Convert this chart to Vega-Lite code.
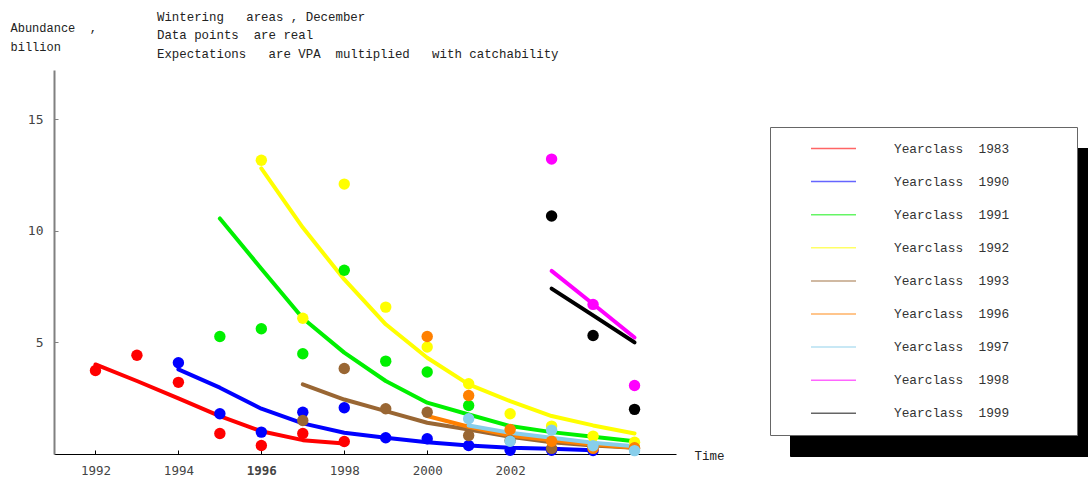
{
  "$schema": "https://vega.github.io/schema/vega-lite/v6.json",
  "width": 622,
  "height": 384,
  "autosize": {"type": "none"},
  "padding": {"left": 54, "top": 70, "right": 412, "bottom": 25},
  "background": "white",
  "config": {"view": {"stroke": null}, "axis": {"grid": false}},
  "title": {
    "text": ["Wintering\u00a0\u00a0 areas , December", "Data points\u00a0 are real", "Expectations\u00a0\u00a0 are VPA\u00a0 multiplied\u00a0\u00a0 with catchability"],
    "anchor": "start",
    "frame": "group",
    "orient": "top",
    "baseline": "bottom",
    "offset": 0,
    "dx": 103,
    "dy": 52,
    "lineHeight": 18.5,
    "font": "Liberation Mono",
    "fontSize": 12.4,
    "fontWeight": "normal",
    "color": "#222222"
  },
  "data": {
    "values": [
      {"yc": "1983", "t": 1992, "k": "vpa", "v": 4.01},
      {"yc": "1983", "t": 1993, "k": "vpa", "v": 3.27},
      {"yc": "1983", "t": 1994, "k": "vpa", "v": 2.49},
      {"yc": "1983", "t": 1995, "k": "vpa", "v": 1.70},
      {"yc": "1983", "t": 1996, "k": "vpa", "v": 1.02},
      {"yc": "1983", "t": 1997, "k": "vpa", "v": 0.62},
      {"yc": "1983", "t": 1998, "k": "vpa", "v": 0.47},
      {"yc": "1990", "t": 1994, "k": "vpa", "v": 3.79},
      {"yc": "1990", "t": 1995, "k": "vpa", "v": 2.97},
      {"yc": "1990", "t": 1996, "k": "vpa", "v": 2.03},
      {"yc": "1990", "t": 1997, "k": "vpa", "v": 1.37},
      {"yc": "1990", "t": 1998, "k": "vpa", "v": 0.95},
      {"yc": "1990", "t": 1999, "k": "vpa", "v": 0.73},
      {"yc": "1990", "t": 2000, "k": "vpa", "v": 0.53},
      {"yc": "1990", "t": 2001, "k": "vpa", "v": 0.38},
      {"yc": "1990", "t": 2002, "k": "vpa", "v": 0.28},
      {"yc": "1990", "t": 2003, "k": "vpa", "v": 0.23},
      {"yc": "1990", "t": 2004, "k": "vpa", "v": 0.17},
      {"yc": "1991", "t": 1995, "k": "vpa", "v": 10.55},
      {"yc": "1991", "t": 1996, "k": "vpa", "v": 8.3},
      {"yc": "1991", "t": 1997, "k": "vpa", "v": 6.08},
      {"yc": "1991", "t": 1998, "k": "vpa", "v": 4.54},
      {"yc": "1991", "t": 1999, "k": "vpa", "v": 3.27},
      {"yc": "1991", "t": 2000, "k": "vpa", "v": 2.3},
      {"yc": "1991", "t": 2001, "k": "vpa", "v": 1.77},
      {"yc": "1991", "t": 2002, "k": "vpa", "v": 1.25},
      {"yc": "1991", "t": 2003, "k": "vpa", "v": 0.98},
      {"yc": "1991", "t": 2004, "k": "vpa", "v": 0.77},
      {"yc": "1991", "t": 2005, "k": "vpa", "v": 0.57},
      {"yc": "1992", "t": 1996, "k": "vpa", "v": 12.79},
      {"yc": "1992", "t": 1997, "k": "vpa", "v": 10.14},
      {"yc": "1992", "t": 1998, "k": "vpa", "v": 7.82},
      {"yc": "1992", "t": 1999, "k": "vpa", "v": 5.81},
      {"yc": "1992", "t": 2000, "k": "vpa", "v": 4.31},
      {"yc": "1992", "t": 2001, "k": "vpa", "v": 3.12},
      {"yc": "1992", "t": 2002, "k": "vpa", "v": 2.37},
      {"yc": "1992", "t": 2003, "k": "vpa", "v": 1.70},
      {"yc": "1992", "t": 2004, "k": "vpa", "v": 1.28},
      {"yc": "1992", "t": 2005, "k": "vpa", "v": 0.92},
      {"yc": "1993", "t": 1997, "k": "vpa", "v": 3.12},
      {"yc": "1993", "t": 1998, "k": "vpa", "v": 2.44},
      {"yc": "1993", "t": 1999, "k": "vpa", "v": 1.92},
      {"yc": "1993", "t": 2000, "k": "vpa", "v": 1.40},
      {"yc": "1993", "t": 2001, "k": "vpa", "v": 1.10},
      {"yc": "1993", "t": 2002, "k": "vpa", "v": 0.77},
      {"yc": "1993", "t": 2003, "k": "vpa", "v": 0.53},
      {"yc": "1993", "t": 2004, "k": "vpa", "v": 0.38},
      {"yc": "1993", "t": 2005, "k": "vpa", "v": 0.28},
      {"yc": "1996", "t": 2000, "k": "vpa", "v": 1.70},
      {"yc": "1996", "t": 2001, "k": "vpa", "v": 1.22},
      {"yc": "1996", "t": 2002, "k": "vpa", "v": 0.83},
      {"yc": "1996", "t": 2003, "k": "vpa", "v": 0.62},
      {"yc": "1996", "t": 2004, "k": "vpa", "v": 0.43},
      {"yc": "1996", "t": 2005, "k": "vpa", "v": 0.28},
      {"yc": "1997", "t": 2001, "k": "vpa", "v": 1.28},
      {"yc": "1997", "t": 2002, "k": "vpa", "v": 0.95},
      {"yc": "1997", "t": 2003, "k": "vpa", "v": 0.73},
      {"yc": "1997", "t": 2004, "k": "vpa", "v": 0.50},
      {"yc": "1997", "t": 2005, "k": "vpa", "v": 0.35},
      {"yc": "1998", "t": 2003, "k": "vpa", "v": 8.2},
      {"yc": "1998", "t": 2004, "k": "vpa", "v": 6.72},
      {"yc": "1998", "t": 2005, "k": "vpa", "v": 5.22},
      {"yc": "1999", "t": 2003, "k": "vpa", "v": 7.41},
      {"yc": "1999", "t": 2004, "k": "vpa", "v": 6.21},
      {"yc": "1999", "t": 2005, "k": "vpa", "v": 5.0},
      {"yc": "1983", "t": 1992, "k": "obs", "v": 3.74},
      {"yc": "1983", "t": 1993, "k": "obs", "v": 4.42},
      {"yc": "1983", "t": 1994, "k": "obs", "v": 3.21},
      {"yc": "1983", "t": 1995, "k": "obs", "v": 0.92},
      {"yc": "1983", "t": 1996, "k": "obs", "v": 0.38},
      {"yc": "1983", "t": 1997, "k": "obs", "v": 0.92},
      {"yc": "1983", "t": 1998, "k": "obs", "v": 0.56},
      {"yc": "1990", "t": 1994, "k": "obs", "v": 4.09},
      {"yc": "1990", "t": 1995, "k": "obs", "v": 1.80},
      {"yc": "1990", "t": 1996, "k": "obs", "v": 0.98},
      {"yc": "1990", "t": 1997, "k": "obs", "v": 1.87},
      {"yc": "1990", "t": 1998, "k": "obs", "v": 2.07},
      {"yc": "1990", "t": 1999, "k": "obs", "v": 0.73},
      {"yc": "1990", "t": 2000, "k": "obs", "v": 0.68},
      {"yc": "1990", "t": 2001, "k": "obs", "v": 0.38},
      {"yc": "1990", "t": 2002, "k": "obs", "v": 0.17},
      {"yc": "1990", "t": 2003, "k": "obs", "v": 0.17},
      {"yc": "1990", "t": 2004, "k": "obs", "v": 0.16},
      {"yc": "1991", "t": 1995, "k": "obs", "v": 5.26},
      {"yc": "1991", "t": 1996, "k": "obs", "v": 5.61},
      {"yc": "1991", "t": 1997, "k": "obs", "v": 4.49},
      {"yc": "1991", "t": 1998, "k": "obs", "v": 8.23},
      {"yc": "1991", "t": 1999, "k": "obs", "v": 4.16},
      {"yc": "1991", "t": 2000, "k": "obs", "v": 3.67},
      {"yc": "1991", "t": 2001, "k": "obs", "v": 2.17},
      {"yc": "1992", "t": 1996, "k": "obs", "v": 13.16},
      {"yc": "1992", "t": 1997, "k": "obs", "v": 6.08},
      {"yc": "1992", "t": 1998, "k": "obs", "v": 12.09},
      {"yc": "1992", "t": 1999, "k": "obs", "v": 6.58},
      {"yc": "1992", "t": 2000, "k": "obs", "v": 4.79},
      {"yc": "1992", "t": 2001, "k": "obs", "v": 3.15},
      {"yc": "1992", "t": 2002, "k": "obs", "v": 1.80},
      {"yc": "1992", "t": 2003, "k": "obs", "v": 1.25},
      {"yc": "1992", "t": 2004, "k": "obs", "v": 0.80},
      {"yc": "1992", "t": 2005, "k": "obs", "v": 0.53},
      {"yc": "1993", "t": 1997, "k": "obs", "v": 1.50},
      {"yc": "1993", "t": 1998, "k": "obs", "v": 3.83},
      {"yc": "1993", "t": 1999, "k": "obs", "v": 2.03},
      {"yc": "1993", "t": 2000, "k": "obs", "v": 1.87},
      {"yc": "1993", "t": 2001, "k": "obs", "v": 0.83},
      {"yc": "1993", "t": 2002, "k": "obs", "v": 0.60},
      {"yc": "1993", "t": 2003, "k": "obs", "v": 0.25},
      {"yc": "1993", "t": 2004, "k": "obs", "v": 0.30},
      {"yc": "1993", "t": 2005, "k": "obs", "v": 0.25},
      {"yc": "1996", "t": 2000, "k": "obs", "v": 5.26},
      {"yc": "1996", "t": 2001, "k": "obs", "v": 2.62},
      {"yc": "1996", "t": 2002, "k": "obs", "v": 1.10},
      {"yc": "1996", "t": 2003, "k": "obs", "v": 0.57},
      {"yc": "1996", "t": 2004, "k": "obs", "v": 0.25},
      {"yc": "1996", "t": 2005, "k": "obs", "v": 0.28},
      {"yc": "1997", "t": 2001, "k": "obs", "v": 1.58},
      {"yc": "1997", "t": 2002, "k": "obs", "v": 0.57},
      {"yc": "1997", "t": 2003, "k": "obs", "v": 1.07},
      {"yc": "1997", "t": 2004, "k": "obs", "v": 0.37},
      {"yc": "1997", "t": 2005, "k": "obs", "v": 0.15},
      {"yc": "1998", "t": 2003, "k": "obs", "v": 13.21},
      {"yc": "1998", "t": 2004, "k": "obs", "v": 6.70},
      {"yc": "1998", "t": 2005, "k": "obs", "v": 3.07},
      {"yc": "1999", "t": 2003, "k": "obs", "v": 10.66},
      {"yc": "1999", "t": 2004, "k": "obs", "v": 5.31},
      {"yc": "1999", "t": 2005, "k": "obs", "v": 2.0}
    ]
  },
  "encoding": {
    "x": {
      "field": "t",
      "type": "quantitative",
      "scale": {"domain": [1991, 2006], "nice": false, "zero": false},
      "axis": {
        "values": [1992, 1994, 1996, 1998, 2000, 2002],
        "format": "d",
        "title": "Time",
        "titleX": 640,
        "titleY": 1,
        "titleAlign": "left",
        "titleBaseline": "middle",
        "titleAngle": 0,
        "titleFont": "Liberation Mono",
        "titleFontSize": 12.5,
        "titleFontWeight": "normal",
        "titleColor": "#222222",
        "labelFont": "DejaVu Sans Mono",
        "labelFontSize": 12.5,
        "labelColor": "#444444",
        "labelFontWeight": {"condition": {"test": "datum.value == 1996", "value": "bold"}, "value": "normal"},
        "labelPadding": 14,
        "labelFlush": false,
        "labelOverlap": false,
        "tickSize": -4,
        "tickColor": "#000000",
        "domainColor": "#000000",
        "domainWidth": 1
      }
    },
    "y": {
      "field": "v",
      "type": "quantitative",
      "scale": {"domain": [0, 17.2], "nice": false},
      "axis": {
        "values": [5, 10, 15],
        "title": ["Abundance\u00a0 ,", "billion"],
        "titleX": -44,
        "titleY": -39,
        "titleAngle": 0,
        "titleAlign": "left",
        "titleBaseline": "alphabetic",
        "titleLineHeight": 19.5,
        "titleFont": "Liberation Mono",
        "titleFontSize": 12,
        "titleFontWeight": "normal",
        "titleColor": "#222222",
        "labelFont": "DejaVu Sans Mono",
        "labelFontSize": 13,
        "labelColor": "#444444",
        "labelPadding": 15,
        "tickSize": -4,
        "tickColor": "#808080",
        "domainColor": "#808080",
        "domainWidth": 2
      }
    }
  },
  "layer": [
    {
      "transform": [{"filter": "datum.k == 'vpa'"}],
      "mark": {"type": "line", "opacity": 0},
      "encoding": {
        "strokeDash": {
          "field": "yc",
          "type": "nominal",
          "scale": {"domain": ["1999", "1998", "1997", "1996", "1993", "1992", "1991", "1990", "1983"]},
          "legend": {
            "orient": "none",
            "legendX": 736,
            "legendY": 78,
            "direction": "vertical",
            "title": null,
            "zindex": 1,
            "fillColor": "#000000",
            "strokeColor": "#000000",
            "padding": 14,
            "rowPadding": 18.1,
            "clipHeight": 15,
            "symbolType": "stroke",
            "symbolSize": 2025,
            "symbolStrokeWidth": 1.5,
            "symbolOffset": 233,
            "symbolOpacity": 0,
            "labelOffset": 0,
            "labelLimit": 500,
            "labelFontSize": 12.8,
            "labelExpr": "''"
          }
        }
      }
    },
    {
      "transform": [{"filter": "datum.k == 'vpa'"}],
      "mark": {"type": "line", "strokeWidth": 4, "strokeCap": "round", "strokeJoin": "round"},
      "encoding": {
        "color": {
          "field": "yc",
          "type": "nominal",
          "scale": {
            "domain": ["1983", "1990", "1991", "1992", "1993", "1996", "1997", "1998", "1999"],
            "range": ["#ff0000", "#0000ff", "#00f000", "#ffff00", "#996633", "#ff8000", "#87ceeb", "#ff00ff", "#000000"]
          },
          "legend": {
            "orient": "none",
            "legendX": 716,
            "legendY": 57,
            "direction": "vertical",
            "title": "MMMMMM",
            "titleOrient": "right",
            "titlePadding": 7,
            "titleOpacity": 0,
            "titleFont": "Liberation Mono",
            "titleFontSize": 12.8,
            "zindex": 2,
            "fillColor": "#ffffff",
            "strokeColor": "#666666",
            "padding": 14,
            "rowPadding": 18.1,
            "clipHeight": 15,
            "symbolType": "stroke",
            "symbolSize": 2025,
            "symbolStrokeWidth": 1.5,
            "symbolOffset": 26,
            "symbolOpacity": 0.6,
            "labelOffset": 37,
            "labelLimit": 500,
            "labelFont": "Liberation Mono",
            "labelFontSize": 12.8,
            "labelColor": "#333333",
            "labelExpr": "'Yearclass\u00a0\u00a0' + datum.label"
          }
        }
      }
    },
    {
      "transform": [{"filter": "datum.k == 'obs'"}],
      "mark": {"type": "circle", "size": 130, "opacity": 1},
      "encoding": {
        "color": {
          "field": "yc",
          "type": "nominal",
          "scale": {
            "domain": ["1983", "1990", "1991", "1992", "1993", "1996", "1997", "1998", "1999"],
            "range": ["#ff0000", "#0000ff", "#00f000", "#ffff00", "#996633", "#ff8000", "#87ceeb", "#ff00ff", "#000000"]
          },
          "legend": {
            "orient": "none",
            "legendX": 716,
            "legendY": 57,
            "direction": "vertical",
            "title": "MMMMMM",
            "titleOrient": "right",
            "titlePadding": 7,
            "titleOpacity": 0,
            "titleFont": "Liberation Mono",
            "titleFontSize": 12.8,
            "zindex": 2,
            "fillColor": "#ffffff",
            "strokeColor": "#666666",
            "padding": 14,
            "rowPadding": 18.1,
            "clipHeight": 15,
            "symbolType": "stroke",
            "symbolSize": 2025,
            "symbolStrokeWidth": 1.5,
            "symbolOffset": 26,
            "symbolOpacity": 0.6,
            "labelOffset": 37,
            "labelLimit": 500,
            "labelFont": "Liberation Mono",
            "labelFontSize": 12.8,
            "labelColor": "#333333",
            "labelExpr": "'Yearclass\u00a0\u00a0' + datum.label"
          }
        }
      }
    }
  ]
}
